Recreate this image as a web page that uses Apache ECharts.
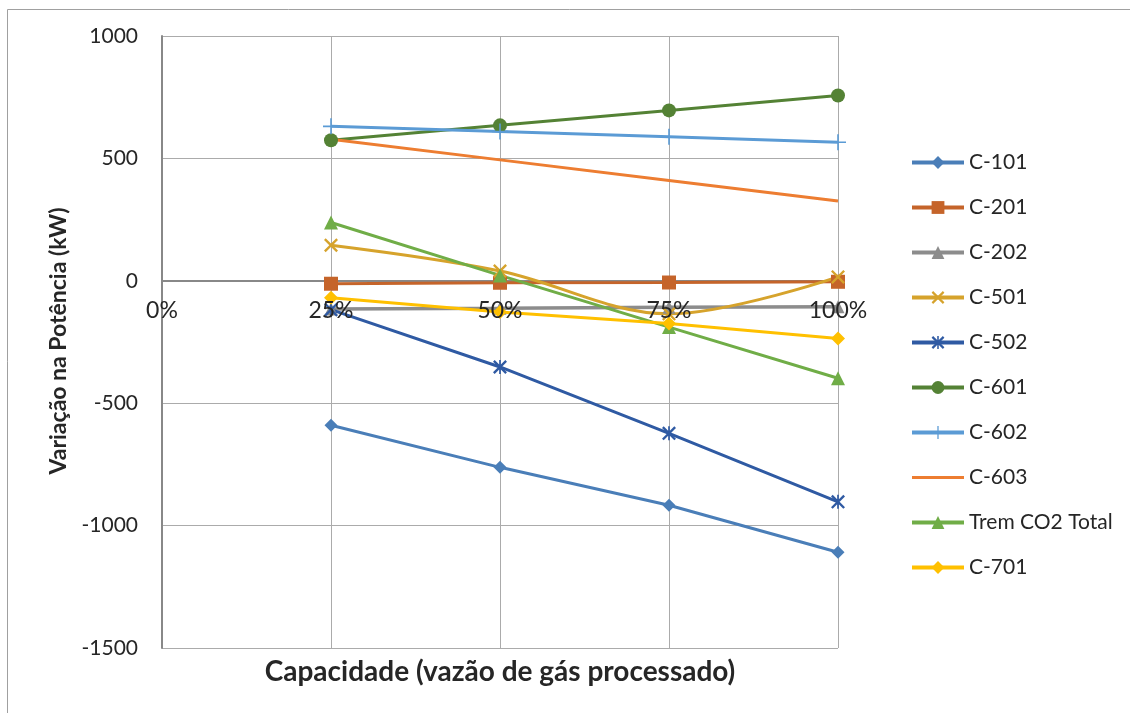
<!DOCTYPE html>
<html>
<head>
<meta charset="utf-8">
<script src="https://cdn.jsdelivr.net/npm/echarts@6/dist/echarts.min.js"></script>
<style>
  html, body { margin: 0; padding: 0; background: #fff; }
  #chart { width: 1130px; height: 713px; }
</style>
</head>
<body>
<div id="chart"></div>
<script>
// Capacity steps (x axis) and power variation per compressor (kW)
const categories = ['0%', '25%', '50%', '75%', '100%'];
const c101 = [null, -590, -762, -917, -1109];
const c201 = [null, -12, -8, -7, -4];
const c202 = [null, -115, -112, -108, -106];
const c501 = [null, 145, 40, -135, 16];
const c502 = [null, -118, -352, -623, -903];
const c601 = [null, 574, 635, 696, 757];
const c602 = [null, 631, 610, 588, 566];
const c603 = [null, 578, 494, 410, 326];
const tremCO2 = [null, 238, 22, -189, -398];
const c701 = [null, -69, -127, -174, -236];
const yTicks = { min: -1500, max: 1000, step: 500 };

const FONT = 'Lato, "Open Sans", sans-serif';
const GRID = { left: 162, right: 292, top: 36, bottom: 65 };
const CHART_H = 713;

// marker shapes drawn as filled outlines
const crossX = 'path://M0,1.2 L1.2,0 L10,8.8 L8.8,10 Z M8.8,0 L10,1.2 L1.2,10 L0,8.8 Z';
const asterisk = 'path://M0,1.2 L1.2,0 L10,8.8 L8.8,10 Z M8.8,0 L10,1.2 L1.2,10 L0,8.8 Z M4.4,0 L5.6,0 L5.6,10 L4.4,10 Z';
const plus = 'path://M4.5,0 L5.5,0 L5.5,10 L4.5,10 Z M0,4.5 L10,4.5 L10,5.5 L0,5.5 Z';
// plain line legend icon (no marker)
const plainLine = 'path://M0,0 L0.01,0 L0,0.01 Z M0,6.5 L52,6.5 L52,9.5 L0,9.5 Z M52,16 L51.99,16 L52,15.99 Z';

function line(name, data, color, symbol, size, extra) {
  return Object.assign({
    name: name,
    type: 'line',
    data: data,
    symbol: symbol,
    symbolSize: size,
    showSymbol: symbol !== 'none',
    color: color,
    lineStyle: { color: color, width: 3 },
    itemStyle: { color: color },
    emphasis: { disabled: true },
    animation: false
  }, extra || {});
}

const series = [
  line('C-101', c101, '#4a7eb8', 'diamond', 13),
  line('C-201', c201, '#c5642a', 'rect', 14),
  line('C-202', c202, '#8c8c8c', 'triangle', 13, { lineStyle: { color: '#8c8c8c', width: 3.5 } }),
  line('C-501', c501, '#d6a32c', crossX, 14, { smooth: 0.35 }),
  line('C-502', c502, '#2f5aa3', asterisk, 14),
  line('C-601', c601, '#548235', 'circle', 14),
  line('C-602', c602, '#5b9bd5', plus, 16),
  line('C-603', c603, '#ed7d31', 'none', 0),
  line('Trem CO2 Total', tremCO2, '#70ad47', 'triangle', 14),
  line('C-701', c701, '#ffc000', 'diamond', 14)
];

// x axis sits on the zero line of the value axis
const plotH = CHART_H - GRID.top - GRID.bottom;
const zeroFromBottom = (0 - yTicks.min) / (yTicks.max - yTicks.min) * plotH;

const chart = echarts.init(document.getElementById('chart'), null, { renderer: 'canvas' });
chart.setOption({
  backgroundColor: '#fff',
  animation: false,
  textStyle: { fontFamily: FONT },
  grid: Object.assign({ containLabel: false }, GRID),
  xAxis: [
    {
      // axis line and vertical gridlines, below the series
      type: 'category',
      data: categories,
      boundaryGap: false,
      offset: -zeroFromBottom,
      axisLine: { onZero: false, lineStyle: { color: '#888888', width: 2 } },
      axisTick: { show: false },
      axisLabel: { show: false },
      splitLine: { show: true, lineStyle: { color: '#ababab', width: 1 } }
    },
    {
      // category labels drawn above the series
      type: 'category',
      data: categories,
      boundaryGap: false,
      position: 'bottom',
      offset: -zeroFromBottom,
      z: 10,
      axisLine: { show: false, onZero: false },
      axisTick: { show: false },
      splitLine: { show: false },
      axisLabel: { fontSize: 23, color: '#262626', margin: 18, fontFamily: FONT }
    }
  ],
  yAxis: {
    type: 'value',
    min: yTicks.min,
    max: yTicks.max,
    interval: yTicks.step,
    axisLine: { show: true, onZero: false, lineStyle: { color: '#888888', width: 2 } },
    axisTick: { show: false },
    axisLabel: {
      fontSize: 21, color: '#262626', margin: 24, fontFamily: FONT,
      formatter: v => String(v)
    },
    splitLine: { show: true, lineStyle: { color: '#ababab', width: 1 } }
  },
  legend: {
    orient: 'vertical',
    left: 905,
    top: 147,
    itemWidth: 52,
    itemHeight: 16,
    itemGap: 24,
    lineStyle: { width: 4 },
    textStyle: { fontSize: 21, color: '#262626', fontFamily: FONT, lineHeight: 21 },
    data: series.map(s => s.name === 'C-603' ? { name: s.name, icon: plainLine } : s.name)
  },
  graphic: [
    {
      type: 'rect',
      shape: { x: 7.5, y: 9.5, width: 1140, height: 720 },
      style: { fill: 'none', stroke: '#a0a0a0', lineWidth: 1 },
      silent: true, z: -1
    },
    {
      type: 'text',
      x: 500, y: 672,
      style: {
        text: 'Capacidade (vazão de gás processado)',
        x: 0, y: 0,
        align: 'center', verticalAlign: 'middle',
        font: 'bold 28px ' + FONT, fill: '#262626'
      }
    },
    {
      type: 'text',
      rotation: Math.PI / 2,
      x: 59, y: 341,
      style: {
        text: 'Variação na Potência (kW)',
        x: 0, y: 0,
        align: 'center', verticalAlign: 'middle',
        font: 'bold 23px ' + FONT, fill: '#262626'
      }
    }
  ],
  series: series
});
</script>
</body>
</html>
